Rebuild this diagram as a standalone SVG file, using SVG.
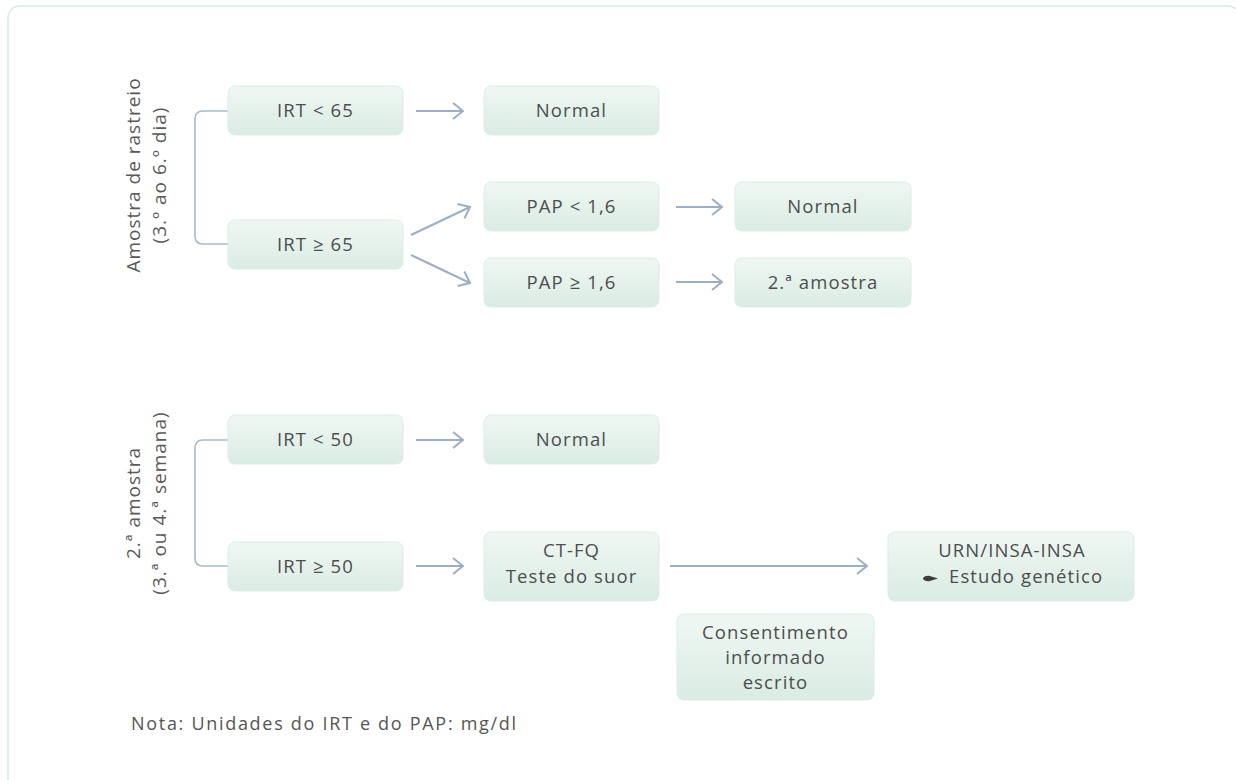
<svg xmlns="http://www.w3.org/2000/svg" width="1236" height="780" viewBox="0 0 1236 780">
<style>
.frame{fill:#ffffff;stroke:#d3ebe8;stroke-width:1.5}
.box{fill:url(#g);stroke:#dcede5;stroke-width:1}
.t{font-family:"Open Sans","Liberation Sans",sans-serif;font-size:18.5px;letter-spacing:1.1px;fill:#4d4d4d;text-anchor:middle}
.side{font-family:"Open Sans","Liberation Sans",sans-serif;font-size:19px;letter-spacing:1px;fill:#595959;text-anchor:middle}
.note{font-family:"Open Sans","Liberation Sans",sans-serif;font-size:18px;letter-spacing:1.7px;fill:#555555}
.ar{stroke:#9dafc2;stroke-width:2;fill:none;marker-end:url(#ah)}
.br{stroke:#a9bacb;stroke-width:1.6;fill:none}
</style>
<defs>
<linearGradient id="g" x1="0" y1="0" x2="0" y2="1">
<stop offset="0" stop-color="#f0f7f3"/>
<stop offset="1" stop-color="#d9ece3"/>
</linearGradient>
<marker id="ah" viewBox="0 0 12 18" refX="11" refY="9" markerWidth="12" markerHeight="18" markerUnits="userSpaceOnUse" orient="auto">
<path d="M1,1 L11,9 L1,17" fill="none" stroke="#9dafc2" stroke-width="2"/>
</marker>
</defs>
<rect class="frame" x="8" y="6" width="1232" height="800" rx="12"/>

<g id="side1">
<text class="side" transform="translate(139.5,175) rotate(-90)">Amostra de rastreio</text>
<text class="side" transform="translate(166,175) rotate(-90)">(3.º ao 6.º dia)</text>
</g>
<g id="side2">
<text class="side" transform="translate(139.5,503) rotate(-90)">2.ª amostra</text>
<text class="side" transform="translate(166,503) rotate(-90)">(3.ª ou 4.ª semana)</text>
</g>

<g id="connectors">
<path class="br" d="M228,111 H203 Q195,111 195,119 V236 Q195,244 203,244 H228"/>
<path class="br" d="M228,440 H203 Q195,440 195,448 V558 Q195,566 203,566 H228"/>
<line class="ar" x1="416" y1="111" x2="463" y2="111"/>
<line class="ar" x1="411" y1="235" x2="470" y2="207"/>
<line class="ar" x1="411" y1="255" x2="470" y2="283"/>
<line class="ar" x1="676" y1="207" x2="722" y2="207"/>
<line class="ar" x1="676" y1="282" x2="722" y2="282"/>
<line class="ar" x1="416" y1="440" x2="463" y2="440"/>
<line class="ar" x1="416" y1="566" x2="463" y2="566"/>
<line class="ar" x1="670" y1="566" x2="867" y2="566"/>
</g>

<g id="irt-lt-65"><rect class="box" x="228" y="86" width="175" height="49" rx="7"/><text class="t" x="315.5" y="117">IRT &lt; 65</text></g>
<g id="irt-ge-65"><rect class="box" x="228" y="220" width="175" height="49" rx="7"/><text class="t" x="315.5" y="251">IRT ≥ 65</text></g>
<g id="normal-1"><rect class="box" x="484" y="86" width="175" height="49" rx="7"/><text class="t" x="571.5" y="117">Normal</text></g>
<g id="pap-lt"><rect class="box" x="484" y="182" width="175" height="49" rx="7"/><text class="t" x="571.5" y="213">PAP &lt; 1,6</text></g>
<g id="pap-ge"><rect class="box" x="484" y="258" width="175" height="49" rx="7"/><text class="t" x="571.5" y="289">PAP ≥ 1,6</text></g>
<g id="normal-2"><rect class="box" x="735" y="182" width="176" height="49" rx="7"/><text class="t" x="823" y="213">Normal</text></g>
<g id="amostra2"><rect class="box" x="735" y="258" width="176" height="49" rx="7"/><text class="t" x="823" y="289">2.ª amostra</text></g>

<g id="irt-lt-50"><rect class="box" x="228" y="415" width="175" height="49" rx="7"/><text class="t" x="315.5" y="446">IRT &lt; 50</text></g>
<g id="irt-ge-50"><rect class="box" x="228" y="542" width="175" height="49" rx="7"/><text class="t" x="315.5" y="573">IRT ≥ 50</text></g>
<g id="normal-3"><rect class="box" x="484" y="415" width="175" height="49" rx="7"/><text class="t" x="571.5" y="446">Normal</text></g>
<g id="ctfq"><rect class="box" x="484" y="532" width="175" height="69" rx="7"/><text class="t" x="571.5" y="557">CT-FQ</text><text class="t" x="571.5" y="583">Teste do suor</text></g>
<g id="urn"><rect class="box" x="888" y="532" width="246" height="69" rx="7"/><text class="t" x="1012" y="557">URN/INSA-INSA</text><path d="M923,578.5 Q924,575.5 929,575.8 L938,578.5 L929,581.2 Q924,581.5 923,578.5 Z" fill="#3d3d3d"/><text class="t" x="949" y="583" style="text-anchor:start">Estudo genético</text></g>
<g id="consent"><rect class="box" x="677" y="614" width="197" height="86" rx="7"/><text class="t" x="775.5" y="639">Consentimento</text><text class="t" x="775.5" y="664">informado</text><text class="t" x="775.5" y="689">escrito</text></g>

<text class="note" x="131" y="730">Nota: Unidades do IRT e do PAP: mg/dl</text>
</svg>
